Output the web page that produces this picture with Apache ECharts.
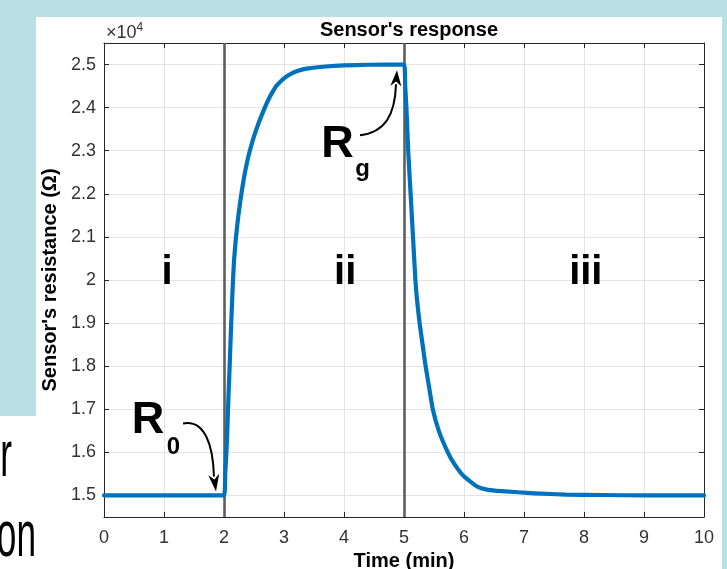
<!DOCTYPE html>
<html><head><meta charset="utf-8">
<script src="https://cdn.jsdelivr.net/npm/echarts@6/dist/echarts.min.js"></script>
<style>html,body{margin:0;padding:0;background:#b9e0e3;}#c{width:727px;height:569px;}</style>
</head><body><div id="c"></div><script>
// ---- data (time in minutes, resistance in ohms) ----
const riseTime = [0, 2, 2.02, 2.04, 2.055, 2.067, 2.08, 2.094, 2.107, 2.12, 2.135, 2.15, 2.17, 2.2, 2.24, 2.29, 2.35, 2.43, 2.54, 2.68, 2.76, 2.82, 2.87, 2.93, 3.01, 3.06, 3.12, 3.22, 3.4, 3.7, 4.0, 4.4, 5];
const riseOhm = [15000, 15000, 15500, 16000, 16500, 17000, 17500, 18000, 18500, 19000, 19500, 20000, 20500, 21000, 21500, 22000, 22500, 23000, 23500, 24000, 24240, 24390, 24500, 24590, 24690, 24740, 24790, 24850, 24910, 24955, 24980, 24995, 25000];
const decayTime = [5.02, 5.04, 5.07, 5.11, 5.15, 5.19, 5.22, 5.26, 5.31, 5.36, 5.42, 5.48, 5.58, 5.73, 5.83, 5.96, 6.08, 6.23, 6.4, 6.62, 7.18, 7.7, 8.3, 9, 10];
const decayOhm = [24500, 24000, 23000, 22000, 21000, 20000, 19500, 19000, 18500, 18000, 17500, 17000, 16500, 16000, 15750, 15500, 15350, 15200, 15130, 15100, 15050, 15020, 15010, 15000, 15000];
const phaseBoundaries = [2, 5];
const xTicks = [0, 1, 2, 3, 4, 5, 6, 7, 8, 9, 10];
const regionLabels = ['i', 'ii', 'iii'];
const regionLabelTime = [1.05, 4.02, 8.03];
const regionLabelLevel = 20155;

const FONT = '"Liberation Sans", Arial, Helvetica, sans-serif';
const AX = '#262626';
const chart = echarts.init(document.getElementById('c'), null, {renderer: 'canvas'});

const commonX = {type: 'value', min: xTicks[0], max: xTicks[xTicks.length - 1], interval: 1};
const commonY = {type: 'value', min: 14500, max: 25500, splitNumber: 11};
const responseData = riseTime.map((t, i) => [t, riseOhm[i]]).concat(decayTime.map((t, i) => [t, decayOhm[i]]));

const option = {
  animation: false,
  backgroundColor: 'transparent',
  title: {
    text: "Sensor's response", left: 404, top: 15, textAlign: 'center',
    textStyle: {fontFamily: FONT, fontSize: 20, fontWeight: 'bold', color: '#000'}
  },
  grid: {left: 104, right: 23, top: 43, bottom: 52, containLabel: false, outerBoundsMode: 'none'},
  xAxis: [
    Object.assign({}, commonX, {
      position: 'bottom',
      name: 'Time (min)', nameLocation: 'middle', nameGap: 33,
      nameTextStyle: {fontFamily: FONT, fontSize: 20, fontWeight: 'bold', color: '#000'},
      axisLine: {show: true, onZero: false, lineStyle: {color: AX, width: 1}},
      axisTick: {show: true, inside: true, length: 5, lineStyle: {color: AX}},
      axisLabel: {color: '#333', fontFamily: FONT, fontSize: 18, margin: 12},
      splitLine: {show: true, lineStyle: {color: '#e4e4e4', width: 1}}
    }),
    Object.assign({}, commonX, {
      position: 'top',
      axisLine: {show: true, onZero: false, lineStyle: {color: AX, width: 1}},
      axisTick: {show: true, inside: true, length: 5, lineStyle: {color: AX}},
      axisLabel: {show: false},
      splitLine: {show: false}
    })
  ],
  yAxis: [
    Object.assign({}, commonY, {
      position: 'left',
      name: "Sensor's resistance (\u03A9)", nameLocation: 'middle', nameGap: 39,
      nameTextStyle: {fontFamily: FONT, fontSize: 20, fontWeight: 'bold', color: '#000'},
      axisLine: {show: true, onZero: false, lineStyle: {color: AX, width: 1}},
      axisTick: {show: true, inside: true, length: 5, lineStyle: {color: AX}},
      axisLabel: {color: '#333', fontFamily: FONT, fontSize: 18, margin: 8,
        showMinLabel: false, showMaxLabel: false,
        formatter: v => String(Math.round(v / 1000) / 10)},
      splitLine: {show: true, lineStyle: {color: '#e4e4e4', width: 1}}
    }),
    Object.assign({}, commonY, {
      position: 'right',
      axisLine: {show: true, onZero: false, lineStyle: {color: AX, width: 1}},
      axisTick: {show: true, inside: true, length: 5, lineStyle: {color: AX}},
      axisLabel: {show: false},
      splitLine: {show: false}
    })
  ],
  series: [
    {
      type: 'line', xAxisIndex: 0, yAxisIndex: 0, data: [], silent: true, z: 3,
      markLine: {
        silent: true, symbol: 'none', animation: false,
        label: {show: false},
        lineStyle: {color: '#5e5e5e', width: 2.6, type: 'solid'},
        data: phaseBoundaries.map(x => ({xAxis: x}))
      }
    },
    {
      type: 'line', xAxisIndex: 0, yAxisIndex: 0, z: 5,
      data: responseData,
      showSymbol: false, smooth: 0.2,
      lineStyle: {color: '#0072BD', width: 4.2, join: 'round', cap: 'round'}
    }
  ]
};
chart.setOption(option);

function P(t, r) { return chart.convertToPixel({xAxisIndex: 0, yAxisIndex: 0}, [t, r]); }

const g = [];
// white slide panels behind the chart
g.push({type: 'rect', z: -100, silent: true, shape: {x: 36, y: 17, width: 686, height: 552}, style: {fill: '#fff'}});
g.push({type: 'rect', z: -100, silent: true, shape: {x: 0, y: 416, width: 36, height: 153}, style: {fill: '#fff'}});
// partial slide text at the left edge
g.push({type: 'text', z: 1, silent: true, x: 12, y: 490, scaleX: 0.55, originX: 0, originY: 0,
  style: {text: 'r', font: '64px ' + FONT, fill: '#000', align: 'right', verticalAlign: 'bottom'}});
g.push({type: 'text', z: 1, silent: true, x: 36, y: 570, scaleX: 0.55, originX: 0, originY: 0,
  style: {text: 'on', font: '64px ' + FONT, fill: '#000', align: 'right', verticalAlign: 'bottom'}});

// x10^4 multiplier
const tl = P(0, 25500);
g.push({type: 'text', z: 10, silent: true, x: tl[0] + 2, y: tl[1] - 10,
  style: {text: '\u00D710{s|4}', fontFamily: FONT, fontSize: 18, fill: '#333', align: 'left', verticalAlign: 'middle',
    rich: {s: {fontFamily: FONT, fontSize: 12, fill: '#333', padding: [0, 0, 11, 0]}}}});

// region labels
regionLabels.forEach((lab, i) => {
  const p = P(regionLabelTime[i], regionLabelLevel);
  g.push({type: 'text', z: 10, silent: true, x: p[0], y: p[1],
    style: {text: lab, font: 'bold 40px ' + FONT, fill: '#000', align: 'center', verticalAlign: 'middle'}});
});

function label(main, sub, mainPos, subPos) {
  const a = P(mainPos[0], mainPos[1]), b = P(subPos[0], subPos[1]);
  g.push({type: 'text', z: 10, silent: true, x: a[0], y: a[1],
    style: {text: main, font: 'bold 45px ' + FONT, fill: '#000', align: 'center', verticalAlign: 'middle'}});
  g.push({type: 'text', z: 10, silent: true, x: b[0], y: b[1],
    style: {text: sub, font: 'bold 24px ' + FONT, fill: '#000', align: 'center', verticalAlign: 'middle'}});
}
function arrow(pts, tip) {
  const p = pts.map(q => P(q[0], q[1]));
  const T = P(tip[0], tip[1]);
  g.push({type: 'bezierCurve', z: 10, silent: true,
    shape: {x1: p[0][0], y1: p[0][1], cpx1: p[1][0], cpy1: p[1][1], cpx2: p[2][0], cpy2: p[2][1], x2: p[3][0], y2: p[3][1]},
    style: {stroke: '#000', lineWidth: 2, fill: null}});
  let dx = T[0] - p[3][0], dy = T[1] - p[3][1];
  const L = Math.hypot(dx, dy); dx /= L; dy /= L;
  const len = L + 2, w = 11;
  const bx = T[0] - dx * len, by = T[1] - dy * len;
  const nx = -dy, ny = dx;
  g.push({type: 'polygon', z: 10, silent: true,
    shape: {points: [[T[0], T[1]], [bx + nx * w / 2, by + ny * w / 2], [bx + dx * len * 0.3, by + dy * len * 0.3], [bx - nx * w / 2, by - ny * w / 2]]},
    style: {fill: '#000'}});
}
label('R', '0', [0.733, 16740], [1.158, 16120]);
arrow([[1.317, 16672], [1.683, 16765], [1.817, 16161], [1.833, 15441]], [1.867, 15093]);
label('R', 'g', [3.892, 23150], [4.308, 22560]);
arrow([[4.267, 23359], [4.683, 23429], [4.85, 23824], [4.867, 24543]], [4.883, 24869]);

chart.setOption({graphic: {elements: g}});
</script></body></html>
